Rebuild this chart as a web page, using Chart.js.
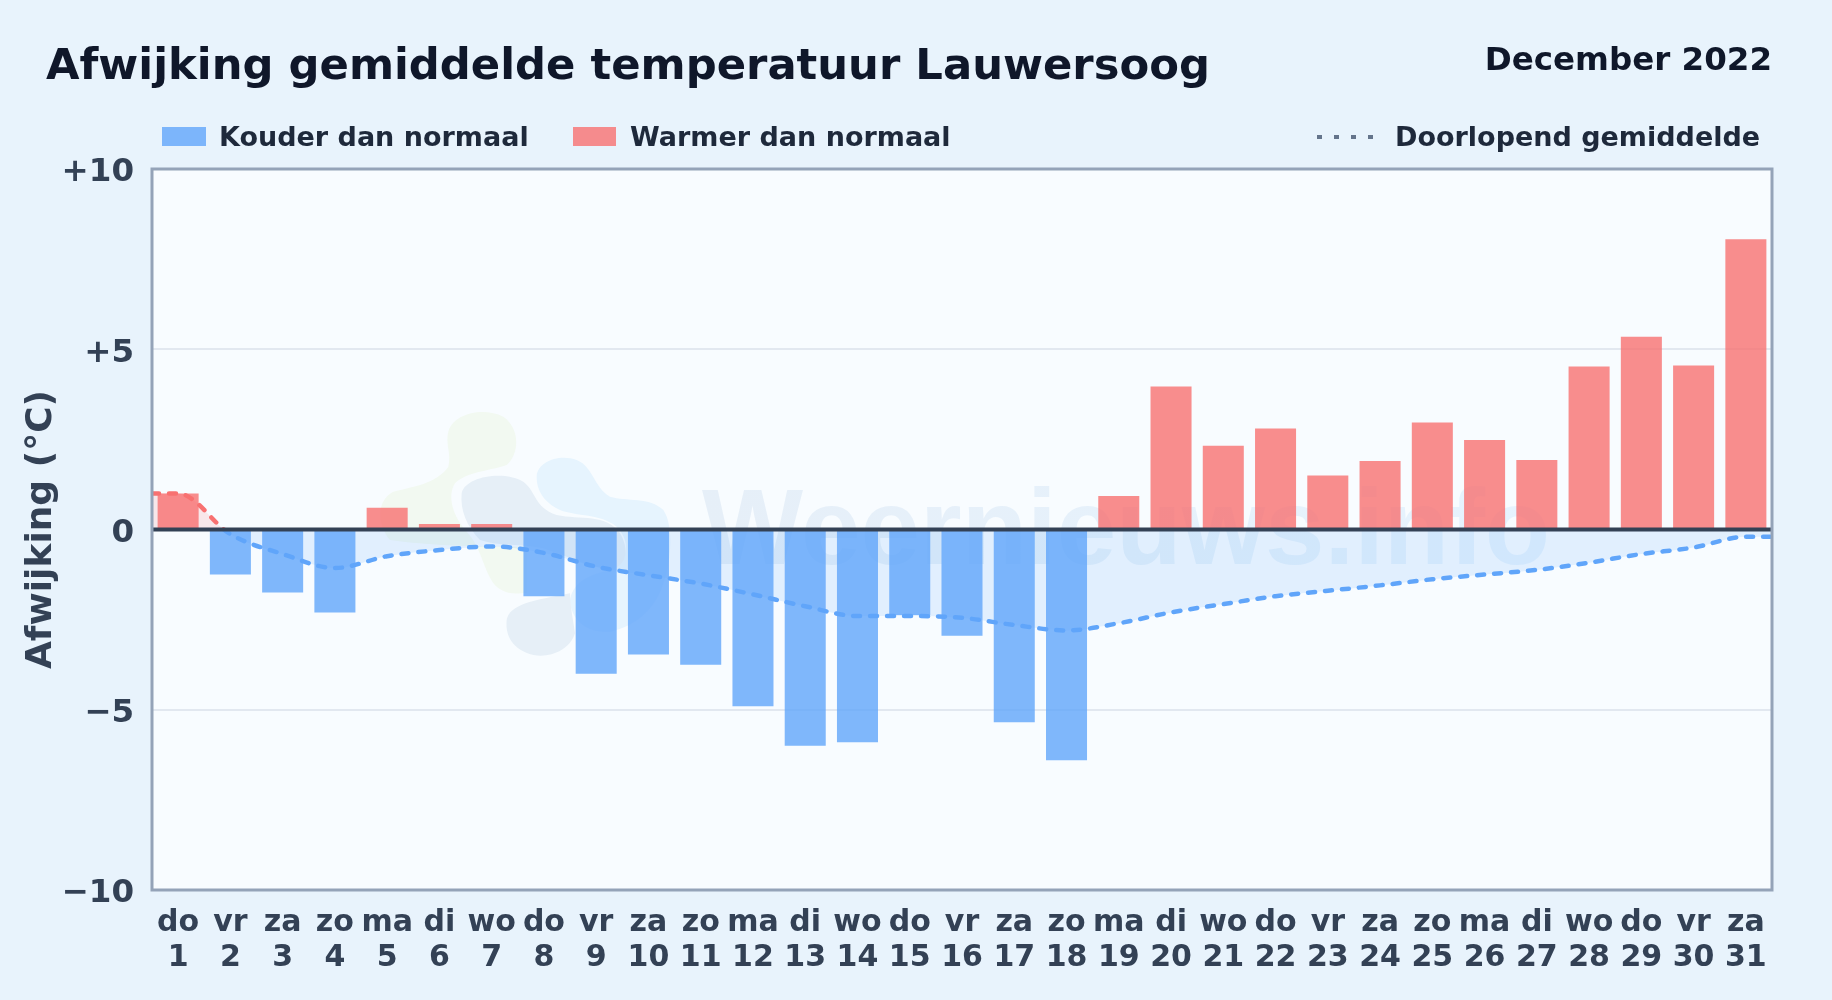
<!DOCTYPE html>
<html lang="nl">
<head>
<meta charset="utf-8">
<title>Afwijking gemiddelde temperatuur Lauwersoog</title>
<script src="https://cdn.jsdelivr.net/npm/chart.js@4"></script>
<style>
    html, body { margin: 0; padding: 0; width: 1832px; height: 1000px; overflow: hidden; background: #e8f3fc; }
    body { position: relative; font-family: "DejaVu Sans", sans-serif; font-weight: bold; }
    canvas { position: absolute; left: 0; top: 0; }
    .txt { position: absolute; white-space: nowrap; line-height: 1; }
    .title { left: 46px; top: 43px; font-size: 43.3px; color: #0f172a; }
    .month { right: 60px; top: 43px; font-size: 32.5px; color: #0f172a; }
    .leg { top: 123px; font-size: 27px; color: #1e293b; }
    .swatch { position: absolute; top: 127px; height: 19px; }
    .dots { position: absolute; left: 1317px; top: 135px; width: 58px; height: 4px;
        background: repeating-linear-gradient(90deg, #64748b 0 5px, transparent 5px 17px); }
</style>
</head>
<body>
<canvas id="afwijking" width="1832" height="1000"></canvas>
<div class="txt title">Afwijking gemiddelde temperatuur Lauwersoog</div>
<div class="txt month">December 2022</div>
<div class="swatch" style="left:162px;width:44px;background:rgba(96,165,250,.8)"></div>
<div class="txt leg" style="left:219px">Kouder dan normaal</div>
<div class="swatch" style="left:573px;width:43px;background:rgba(248,113,113,.8)"></div>
<div class="txt leg" style="left:630px">Warmer dan normaal</div>
<div class="dots"></div>
<div class="txt leg" style="left:1395px">Doorlopend gemiddelde</div>
<script>
    // Data
    var weekdays = ["do","vr","za","zo","ma","di","wo","do","vr","za","zo","ma","di","wo","do","vr","za","zo","ma","di","wo","do","vr","za","zo","ma","di","wo","do","vr","za"];
    var days = [1,2,3,4,5,6,7,8,9,10,11,12,13,14,15,16,17,18,19,20,21,22,23,24,25,26,27,28,29,30,31];
    var deviation = [1.0,-1.25,-1.75,-2.3,0.6,0.15,0.15,-1.85,-4.0,-3.47,-3.75,-4.9,-6.0,-5.9,-2.37,-2.95,-5.35,-6.4,0.93,3.97,2.32,2.8,1.5,1.9,2.97,2.48,1.93,4.52,5.35,4.55,8.05];
    var runningMean = [1.0,-0.13,-0.68,-1.07,-0.74,-0.57,-0.47,-0.65,-1.03,-1.27,-1.5,-1.8,-2.13,-2.4,-2.4,-2.45,-2.65,-2.8,-2.6,-2.3,-2.07,-1.85,-1.7,-1.55,-1.38,-1.25,-1.12,-0.92,-0.68,-0.5,-0.2];
    var yTicks = [10, 5, 0, -5, -10];

    var labels = weekdays.map(function (d, i) { return [d, String(days[i])]; });

    // running mean runs on to both plot edges
    var meanPoints = runningMean.map(function (v, i) { return { x: days[i], y: v }; });
    meanPoints.unshift({ x: 0.5, y: runningMean[0] });
    meanPoints.push({ x: 31.5, y: runningMean[runningMean.length - 1] });

    function blob(ctx, color, pts) {
        // pts are in the coords of the logo box, first is the move, rest are bezier triples
        var ox = 370, oy = 400, s = 1 / 3;
        ctx.fillStyle = color;
        ctx.beginPath();
        ctx.moveTo(ox + pts[0] * s, oy + pts[1] * s);
        for (var i = 2; i < pts.length; i += 6) {
            ctx.bezierCurveTo(ox + pts[i] * s, oy + pts[i + 1] * s, ox + pts[i + 2] * s, oy + pts[i + 3] * s, ox + pts[i + 4] * s, oy + pts[i + 5] * s);
        }
        ctx.closePath();
        ctx.fill();
    }

    // Plot background and watermark, under the grid
    var plotBack = {
        id: "plotBack",
        beforeDraw: function (chart) {
            var ctx = chart.ctx, a = chart.chartArea;
            ctx.save();
            ctx.fillStyle = "#f8fcff";
            ctx.fillRect(a.left, a.top, a.width, a.height);
            blob(ctx, "#f2f9f1", [235,95, 250,40,340,20,400,50, 450,85,450,160,410,195, 350,215,290,215,255,250, 230,290,250,350,290,395, 340,450,340,520,380,560, 410,585,440,580,470,580, 470,500,470,460,470,440, 350,440,200,440,60,420, 20,370,20,300,70,275, 130,260,200,250,235,200, 245,160,225,130,235,95]);
            blob(ctx, "#e6f4fe", [500,230, 500,185,570,160,620,180, 670,200,670,260,720,290, 770,305,840,290,880,330, 915,380,900,500,880,550, 860,620,800,680,720,695, 660,700,610,670,600,610, 600,560,640,530,700,515, 770,500,790,430,740,380, 690,340,620,350,570,330, 530,310,500,280,500,230]);
            blob(ctx, "#e6eff7", [275,280, 285,230,400,210,460,245, 500,275,490,320,560,345, 630,360,710,340,750,400, 780,450,770,500,720,510, 650,500,600,470,520,445, 450,430,390,440,330,420, 290,380,270,330,275,280]);
            blob(ctx, "#e6eff7", [410,660, 420,610,500,600,600,580, 600,620,610,660,615,700, 600,750,540,775,490,765, 430,750,405,710,410,660]);
            var g = ctx.createLinearGradient(700, 0, 1550, 0);
            g.addColorStop(0, "#e6eff8");
            g.addColorStop(1, "#e6f3fe");
            ctx.fillStyle = g;
            ctx.font = "bold 107px 'Liberation Sans'";
            ctx.textBaseline = "alphabetic";
            ctx.fillText("Weernieuws.info", 702, 564);
            ctx.restore();
        }
    };

    // Zero line and plot frame go over the bars
    var plotFrame = {
        id: "plotFrame",
        afterDatasetsDraw: function (chart) {
            var ctx = chart.ctx, a = chart.chartArea;
            var y0 = chart.scales.y.getPixelForValue(0);
            ctx.save();
            ctx.strokeStyle = "#334155";
            ctx.lineWidth = 4;
            ctx.beginPath();
            ctx.moveTo(a.left, y0);
            ctx.lineTo(a.right, y0);
            ctx.stroke();
            ctx.strokeStyle = "#94a3b8";
            ctx.lineWidth = 3;
            ctx.strokeRect(a.left, a.top, a.width, a.height);
            ctx.restore();
        }
    };

    function meanColor(context) {
        var chart = context.chart, a = chart.chartArea;
        if (!a) return "#60a5fa";
        var y0 = chart.scales.y.getPixelForValue(0);
        var stop = (y0 - a.top) / a.height;
        var g = chart.ctx.createLinearGradient(0, a.top, 0, a.bottom);
        g.addColorStop(0, "#f87171");
        g.addColorStop(stop, "#f87171");
        g.addColorStop(stop, "#60a5fa");
        g.addColorStop(1, "#60a5fa");
        return g;
    }

    new Chart(document.getElementById("afwijking").getContext("2d"), {
        data: {
            labels: labels,
            datasets: [{
                type: "line",
                data: meanPoints,
                xAxisID: "x2",
                parsing: false,
                order: 1,
                borderColor: meanColor,
                borderWidth: 4.5,
                borderDash: [7, 10],
                borderCapStyle: "round",
                cubicInterpolationMode: "monotone",
                pointRadius: 0,
                fill: { target: { value: 0 }, above: "rgba(248,113,113,.15)", below: "rgba(96,165,250,.15)" }
            }, {
                type: "bar",
                data: deviation,
                order: 2,
                grouped: false,
                categoryPercentage: 1,
                barPercentage: 0.785,
                backgroundColor: function (c) {
                    return c.raw < 0 ? "rgba(96,165,250,.8)" : "rgba(248,113,113,.8)";
                }
            }]
        },
        options: {
            responsive: false,
            animation: false,
            events: [],
            layout: { padding: { left: 20, top: 169, right: 60, bottom: 17 } },
            plugins: {
                legend: { display: false },
                tooltip: { enabled: false },
                filler: { drawTime: "beforeDatasetsDraw" }
            },
            scales: {
                x: {
                    grid: { display: false },
                    border: { display: false },
                    ticks: {
                        autoSkip: false, maxRotation: 0, minRotation: 0, color: "#334155", padding: 8,
                        font: { family: "DejaVu Sans", weight: "bold", size: 30, lineHeight: 1.15 }
                    }
                },
                x2: { type: "linear", min: 0.5, max: 31.5, display: false },
                y: {
                    min: -10,
                    max: 10,
                    afterBuildTicks: function (s) {
                        s.ticks = yTicks.map(function (v) { return { value: v }; });
                    },
                    afterFit: function (s) { s.width = 132; },
                    grid: { color: "#e2e8f0", lineWidth: 2, drawTicks: false },
                    border: { display: false },
                    title: { display: true, text: "Afwijking (°C)", color: "#334155", font: { family: "DejaVu Sans", weight: "bold", size: 36 }, padding: 0 },
                    ticks: {
                        color: "#334155",
                        font: { family: "DejaVu Sans", weight: "bold", size: 32.5 },
                        padding: 18,
                        labelOffset: 4,
                        callback: function (v) {
                            if (v === 0) return "0";
                            return (v > 0 ? "+" : "\u2212") + Math.abs(v);
                        }
                    }
                }
            }
        },
        plugins: [plotBack, plotFrame]
    });
</script>
</body>
</html>
